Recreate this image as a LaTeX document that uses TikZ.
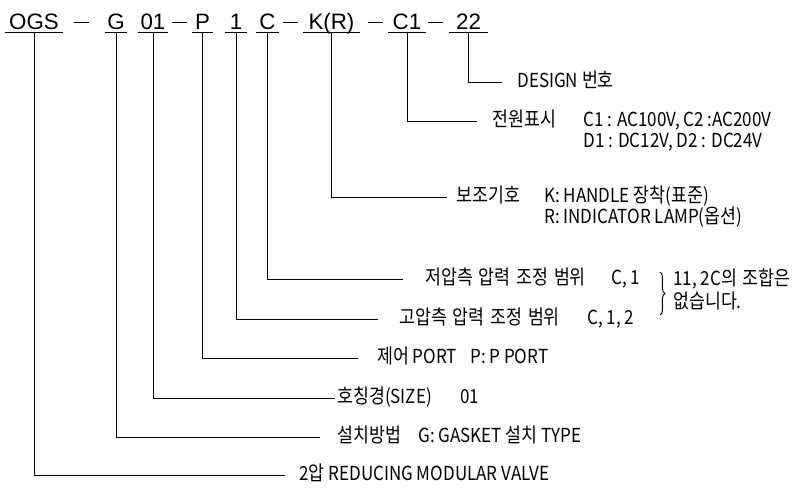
\documentclass[tikz,border=0pt]{standalone}
\usepackage{fontspec}
\setmainfont{Noto Sans CJK KR}[FakeStretch=0.88]
\newfontfamily\krfont{Noto Sans CJK KR}[FakeStretch=0.86, Scale=1.04, WordSpace=1.5]
\newfontfamily\codefont{Liberation Sans}
\usetikzlibrary{decorations.pathreplacing}

\tikzset{
    code/.style={font=\codefont\fontsize{12.7}{14}\selectfont, anchor=base,
        inner xsep=0pt, inner ysep=0.06cm, text depth=0pt},
    desc/.style={font=\fontsize{11}{13}\selectfont, anchor=west,
        inner sep=0pt, text height=9pt, text depth=2.5pt},
    leader/.style={line width=0.55pt}
}

\begin{document}
\begin{tikzpicture}[x=0.02cm, y=-0.02cm]
    % Fix the page size
    \useasboundingbox (0,0) rectangle (794,487);

    % Draw the code parts with their underlines
    \foreach \i/\txt/\cx/\w in {1/OGS/34/58, 2/G/116/22, 3/01/153/30, 4/P/202.5/21,
        5/1/236/22, 6/C/267.5/23, 7/K(R)/331.5/57, 8/C1/407/38, 9/22/468.5/39}{
        \node[code, minimum width=\w*0.02cm] (h\i) at (\cx,29) {\txt};
        \draw[leader] (h\i.south west) -- (h\i.south east);
    }

    % Draw the dashes between the parts
    \foreach \i/\cx in {1/81.5, 2/179, 3/290, 4/375, 5/435.5}
        \node[code] (d\i) at (\cx,29) {\rule[3.4pt]{0.3cm}{0.6pt}};

    % Label each part
    \node[desc] (l9) at (517,82) {DESIGN {\krfont 번호}};
    \node[desc] (l8) at (492,121) {{\krfont 전원표시}};
    \node[desc] (v8a) at (583,121) {C1 : AC100V, C2 :AC200V};
    \node[desc] (v8b) at (583,142) {D1 : DC12V, D2 : DC24V};
    \node[desc] (l7) at (456,197) {{\krfont 보조기호}};
    \node[desc] (v7a) at (544,197) {K: HANDLE {\krfont 장착}({\krfont 표준})};
    \node[desc] (v7b) at (544,218) {R: INDICATOR LAMP({\krfont 옵션})};
    \node[desc] (l6) at (425,279) {{\krfont 저압측 압력 조정 범위}};
    \node[desc] (v6) at (611,279) {C, 1};
    \node[desc] (l5) at (399,319) {{\krfont 고압측 압력 조정 범위}};
    \node[desc] (v5) at (587,319) {C, 1, 2};
    \node[desc] (l4) at (377,358) {{\krfont 제어} PORT};
    \node[desc] (v4) at (470,358) {P: P PORT};
    \node[desc] (l3) at (337,398) {{\krfont 호칭경}(SIZE)};
    \node[desc] (v3) at (460,398) {01};
    \node[desc] (l2) at (337,437) {{\krfont 설치방법}};
    \node[desc] (v2) at (418,437) {G: GASKET {\krfont 설치} TYPE};
    \node[desc] (l1) at (299,475) {2{\krfont 압} REDUCING MODULAR VALVE};

    % Note on the pressure ranges
    \node[desc] (n1) at (673,280) {11, 2C{\krfont 의 조합은}};
    \node[desc] (n2) at (673,303) {{\krfont 없습니다}.};
    \draw[leader, decorate, decoration={brace, amplitude=2.8pt}] (660,272) -- (660,315);

    % Draw the leader lines
    \foreach \i/\g in {1/14, 2/17, 3/2, 4/19, 5/21, 6/22, 7/9, 8/15, 9/15}
        \draw[leader] (h\i.south) |- ([xshift=-\g*0.02cm]l\i.west);

\end{tikzpicture}
\end{document}
